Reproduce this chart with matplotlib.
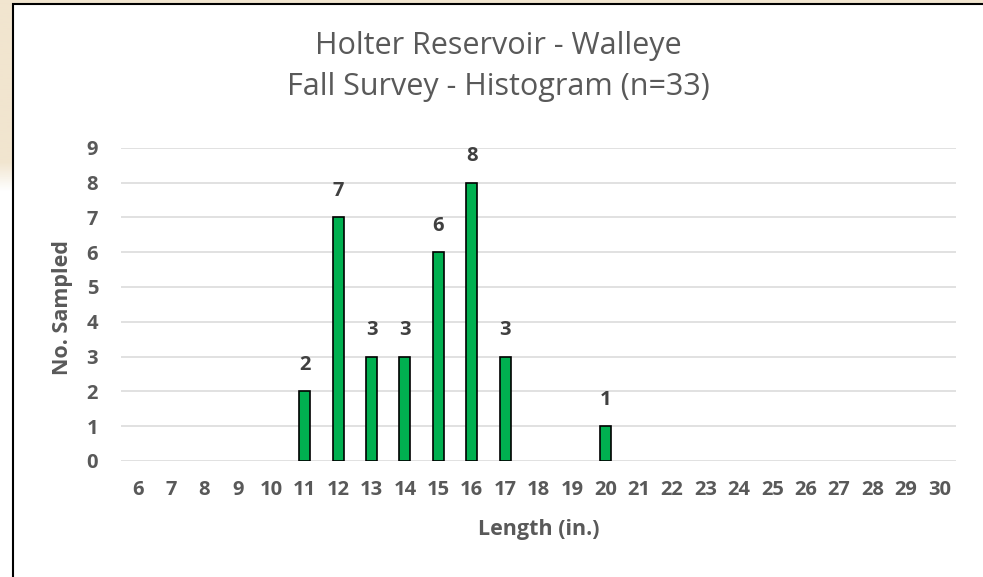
import numpy as np
from matplotlib import pyplot as plt
from matplotlib.patches import Rectangle

# length classes (in.) and number of walleye sampled in each
lengths = [6, 7, 8, 9, 10, 11, 12, 13, 14, 15, 16, 17, 18, 19, 20,
           21, 22, 23, 24, 25, 26, 27, 28, 29, 30]
counts = [0, 0, 0, 0, 0, 2, 7, 3, 3, 6, 8, 3, 0, 0, 1,
          0, 0, 0, 0, 0, 0, 0, 0, 0, 0]
title_lines = ['Holter Reservoir - Walleye', 'Fall Survey - Histogram (n=33)']

plt.rcParams['font.family'] = ['Open Sans', 'DejaVu Sans']

W, H = 983, 577
fig = plt.figure(figsize=(W / 100, H / 100), dpi=100)

# beige slide background fading to white, behind the chart box
bg = fig.add_axes([0, 0, 1, 1], zorder=-2)
beige = np.array([241, 229, 207]) / 255
white = np.ones(3)
rows = np.linspace(0, 1, 300)
fade = np.clip((rows - 0.28) / 0.05, 0, 1)[:, None]
grad = beige * (1 - fade) + white * fade
bg.imshow(grad[:, None, :], aspect='auto', extent=[0, 1, 0, 1], origin='upper')
bg.axis('off')

# white chart box with black outline
box = Rectangle((13 / W, -0.1), 1.2, 1.1 - 3.5 / H, transform=fig.transFigure,
                facecolor='white', edgecolor='black', linewidth=1.5, zorder=-1)
fig.patches.append(box)

ax = fig.add_axes([121 / W, 1 - 461 / H, 835 / W, (461 - 147.7) / H])
ax.set_facecolor('none')
x = np.arange(len(lengths))
cnt = np.array(counts)
nz = cnt > 0
ax.bar(x[nz], cnt[nz], width=0.33, color='#00B050', edgecolor='black', linewidth=1.2, zorder=3)

for xi, c in zip(x[nz], cnt[nz]):
    ax.annotate(str(c), (xi, c), xytext=(0, 19), textcoords='offset points',
                ha='center', va='center', fontsize=14.5, fontweight='bold', color='#404040')

ax.set_xlim(-0.5, len(lengths) - 0.5)
ax.set_ylim(0, 9)
ax.set_yticks(range(0, 10))
ax.set_xticks(x)
ax.set_xticklabels([str(v) for v in lengths])
ax.grid(axis='y', color='#D9D9D9', linewidth=1.1, zorder=0)
ax.set_axisbelow(True)
for s in ax.spines.values():
    s.set_visible(False)
ax.tick_params(axis='x', length=0, pad=14, labelsize=14.5, labelcolor='#595959')
ax.tick_params(axis='y', length=0, pad=16.5, labelsize=14.5, labelcolor='#595959')
for lab in ax.get_xticklabels() + ax.get_yticklabels():
    lab.set_fontweight('bold')

ax.set_xlabel('Length (in.)', fontsize=15.5, fontweight='bold', color='#595959')
ax.xaxis.set_label_coords(0.5, -0.22)
ax.xaxis.label.set_va('center')
ax.set_ylabel('No. Sampled', fontsize=15.5, fontweight='bold', color='#595959')
ax.yaxis.set_label_coords(-0.0695, 0.49)
ax.yaxis.label.set_va('center')

fig.text(498 / W, 1 - 66.5 / H, '\n'.join(title_lines), ha='center', va='center',
         fontsize=22, color='#595959', linespacing=1.45)

fig.savefig('out.png', dpi=100)
